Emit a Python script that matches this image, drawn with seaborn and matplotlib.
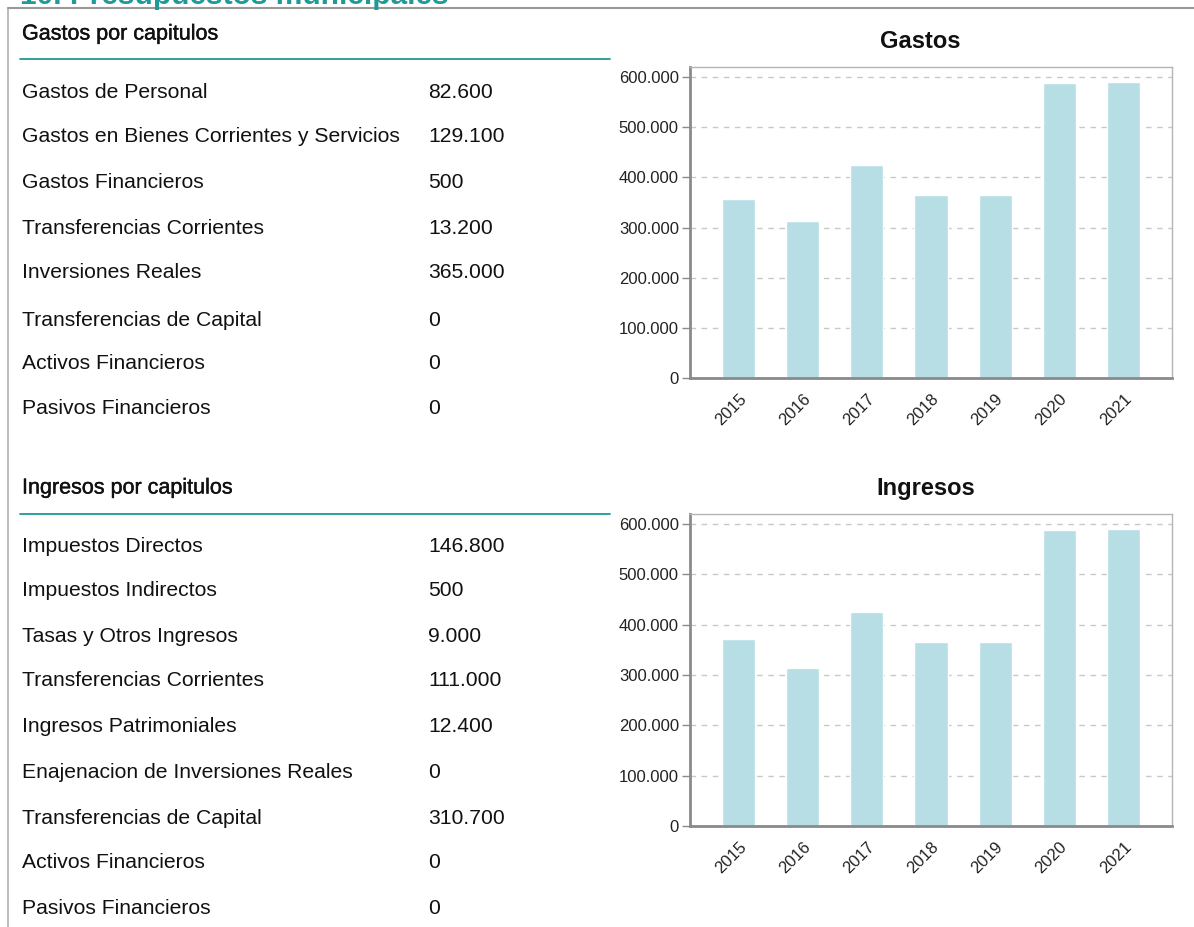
import numpy as np
import pandas as pd
import matplotlib
matplotlib.use('Agg')
import matplotlib.pyplot as plt
import seaborn as sns
from matplotlib.lines import Line2D
from matplotlib.ticker import FuncFormatter, MultipleLocator
import matplotlib.patheffects as pe

# data
years = ['2015', '2016', '2017', '2018', '2019', '2020', '2021']
gastos_total = [356500, 312600, 424400, 364500, 364500, 588000, 590400]
ingresos_total = [370800, 313000, 424600, 364800, 364800, 588000, 590400]

gastos_cap = ['Gastos de Personal', 'Gastos en Bienes Corrientes y Servicios',
              'Gastos Financieros', 'Transferencias Corrientes', 'Inversiones Reales',
              'Transferencias de Capital', 'Activos Financieros', 'Pasivos Financieros']
gastos_val = [82600, 129100, 500, 13200, 365000, 0, 0, 0]

ingresos_cap = ['Impuestos Directos', 'Impuestos Indirectos', 'Tasas y Otros Ingresos',
                'Transferencias Corrientes', 'Ingresos Patrimoniales',
                'Enajenacion de Inversiones Reales', 'Transferencias de Capital',
                'Activos Financieros', 'Pasivos Financieros']
ingresos_val = [146800, 500, 9000, 111000, 12400, 0, 310700, 0, 0]

sns.set_style('white')
plt.rcParams['font.family'] = ['Liberation Sans', 'DejaVu Sans']

W, H = 1194, 927
fig = plt.figure(figsize=(W / 100, H / 100), dpi=100)
teal = '#1f9a96'
bar_col = '#b7dde5'


def fx(x):
    return x / W


def fy(y):
    return 1 - y / H


def fmt(v, pos=None):
    return f'{int(v):,}'.replace(',', '.')


# frame of the page
fig.add_artist(Line2D([fx(8), fx(8)], [fy(8), 0], color='#b0b0b0', lw=1.2))
fig.add_artist(Line2D([fx(8), 1], [fy(7.5), fy(7.5)], color='#999999', lw=1.5))
# page title, cut off at the top edge as in the source page
fig.text(fx(20), fy(4), '10. Presupuestos municipales', color=teal, fontsize=21.5,
         fontweight='bold', va='baseline', ha='left')


def table(title, y_head, y_line, rows, vals, y_rows):
    fig.text(fx(22), fy(y_head), title, fontsize=15.5, va='center', color='#111111',
             path_effects=[pe.withStroke(linewidth=0.3, foreground='#111111')])
    fig.add_artist(Line2D([fx(20), fx(610)], [fy(y_line), fy(y_line)], color=teal, lw=1.3))
    for name, v, y in zip(rows, vals, y_rows):
        fig.text(fx(22), fy(y), name, fontsize=15.2, va='center', color='#111111')
        fig.text(fx(428), fy(y), fmt(v), fontsize=15.2, va='center', color='#111111')


table('Gastos por capitulos', 34, 59, gastos_cap, gastos_val,
      [93, 137, 183, 228, 273, 320, 364, 409])
table('Ingresos por capitulos', 488, 514, ingresos_cap, ingresos_val,
      [546, 591, 636, 681, 727, 772, 818, 863, 908])


def chart(top, bottom, vals, title, title_x, title_y):
    ax = fig.add_axes([fx(690), fy(bottom), fx(1172) - fx(690), (bottom - top) / H])
    df = pd.DataFrame({'year': years, 'value': vals})
    sns.barplot(data=df, x='year', y='value', color=bar_col, saturation=1,
                width=0.52, ax=ax)
    ax.set_xlim(-0.754, 6.754)
    ax.set_ylim(0, 620000)
    ax.yaxis.set_major_locator(MultipleLocator(100000))
    ax.yaxis.set_major_formatter(FuncFormatter(fmt))
    ax.set_axisbelow(True)
    ax.grid(axis='y', linestyle=(0, (4, 4)), color='#c8c8c8', lw=1)
    ax.set_xlabel('')
    ax.set_ylabel('')
    for s in ['left', 'bottom']:
        ax.spines[s].set_color('#8a8a8a')
        ax.spines[s].set_linewidth(2)
    for s in ['top', 'right']:
        ax.spines[s].set_color('#b5b5b5')
        ax.spines[s].set_linewidth(1)
    ax.tick_params(axis='y', left=True, length=6, width=1, color='#8a8a8a',
                   labelsize=12, labelcolor='#222222', pad=2)
    ax.tick_params(axis='x', bottom=False, labelsize=12, labelcolor='#222222', pad=6)
    for lab in ax.get_xticklabels():
        lab.set_rotation(45)
        lab.set_ha('right')
        lab.set_rotation_mode('anchor')
    fig.text(fx(title_x), fy(title_y), title, fontsize=17,
             fontweight='bold', ha='center', va='center', color='#111111')
    return ax


chart(67, 378, gastos_total, 'Gastos', 920, 41)
chart(514, 826, ingresos_total, 'Ingresos', 926, 488)

fig.savefig('out.png', dpi=100)
